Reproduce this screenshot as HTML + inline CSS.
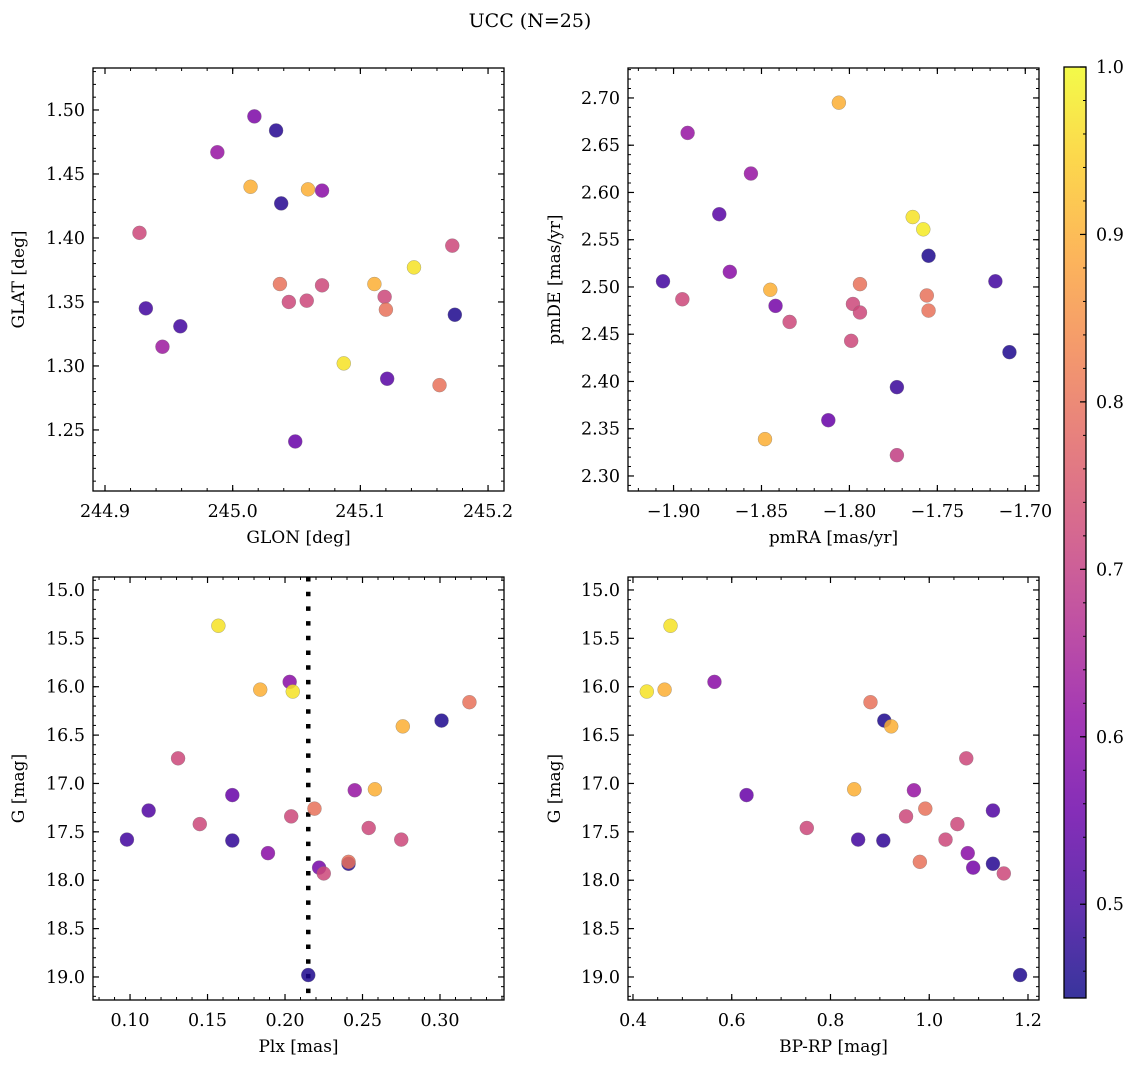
<!DOCTYPE html>
<html><head><meta charset="utf-8"><style>
html,body{margin:0;padding:0;background:#fff;}
svg{display:block;font-family:"DejaVu Serif","Liberation Serif",serif;}
</style></head><body>
<svg id="fig" width="1136" height="1067" viewBox="0 0 1136 1067" xmlns="http://www.w3.org/2000/svg">
<defs>
<linearGradient id="plasmaGrad" x1="0" y1="1" x2="0" y2="0"></linearGradient>
</defs>
<text x="530" y="27" font-size="19" text-anchor="middle">UCC (N=25)</text>
</svg>
<script>
// ---- data ----
const tlGlon = [245.017,245.034,244.988,245.014,245.059,245.070,245.038,244.927,245.172,245.142,245.037,245.070,245.111,245.119,245.044,245.058,245.120,244.932,245.174,244.959,244.945,245.087,245.121,245.162,245.049];
const tlGlat = [1.495,1.484,1.467,1.440,1.438,1.437,1.427,1.404,1.394,1.377,1.364,1.363,1.364,1.354,1.350,1.351,1.344,1.345,1.340,1.331,1.315,1.302,1.290,1.285,1.241];
const tlProb = [0.58,0.47,0.62,0.90,0.90,0.60,0.47,0.72,0.72,0.97,0.80,0.72,0.90,0.72,0.72,0.72,0.80,0.50,0.46,0.50,0.63,0.97,0.53,0.80,0.55];
const trPmra = [-1.806,-1.892,-1.856,-1.874,-1.764,-1.758,-1.755,-1.868,-1.906,-1.717,-1.794,-1.845,-1.756,-1.895,-1.798,-1.842,-1.794,-1.755,-1.834,-1.799,-1.709,-1.773,-1.812,-1.848,-1.773];
const trPmde = [2.695,2.663,2.620,2.577,2.574,2.561,2.533,2.516,2.506,2.506,2.503,2.497,2.491,2.487,2.482,2.480,2.473,2.475,2.463,2.443,2.431,2.394,2.359,2.339,2.322];
const trProb = [0.90,0.62,0.62,0.53,0.97,0.98,0.46,0.60,0.50,0.50,0.80,0.90,0.80,0.72,0.72,0.57,0.72,0.80,0.72,0.72,0.46,0.49,0.55,0.90,0.70];
const plx  = [0.157,0.203,0.184,0.205,0.319,0.301,0.276,0.131,0.245,0.258,0.166,0.219,0.112,0.204,0.145,0.254,0.098,0.166,0.275,0.189,0.241,0.241,0.222,0.225,0.215];
const bprp = [0.476,0.565,0.464,0.428,0.881,0.909,0.923,1.075,0.969,0.848,0.630,0.992,1.129,0.953,1.057,0.752,0.856,0.907,1.033,1.078,1.129,0.981,1.089,1.151,1.184];
const gmag = [15.37,15.95,16.03,16.05,16.16,16.35,16.41,16.74,17.07,17.06,17.12,17.26,17.28,17.34,17.42,17.46,17.58,17.59,17.58,17.72,17.83,17.81,17.87,17.93,18.98];
const gProb= [0.97,0.60,0.90,0.97,0.80,0.46,0.90,0.72,0.62,0.90,0.55,0.80,0.52,0.72,0.72,0.72,0.50,0.48,0.72,0.60,0.47,0.80,0.57,0.72,0.46];
const plxLine = [0.2150];
const tlXTicks = [244.9,245.0,245.1,245.2];
const tlYTicks = [1.25,1.30,1.35,1.40,1.45,1.50];
const trXTicks = [-1.90,-1.85,-1.80,-1.75,-1.70];
const trYTicks = [2.30,2.35,2.40,2.45,2.50,2.55,2.60,2.65,2.70];
const blXTicks = [0.10,0.15,0.20,0.25,0.30];
const gTicks   = [15.0,15.5,16.0,16.5,17.0,17.5,18.0,18.5,19.0];
const brXTicks = [0.4,0.6,0.8,1.0,1.2];
const cbTicks  = [0.5,0.6,0.7,0.8,0.9,1.0];

const NS="http://www.w3.org/2000/svg";
const svg=document.getElementById('fig');
const TF=17.5, LF=17;
function mk(tag,attrs,parent){const e=document.createElementNS(NS,tag);for(const k in attrs)e.setAttribute(k,attrs[k]);(parent||svg).appendChild(e);return e;}
const stops=[[0,'#0d0887'],[0.1,'#41049d'],[0.2,'#6a00a8'],[0.3,'#8f0da4'],[0.4,'#b12a90'],[0.5,'#cc4778'],[0.6,'#e16462'],[0.7,'#f2844b'],[0.8,'#fca636'],[0.9,'#fcce25'],[1,'#f0f921']];
function hex(h){return [parseInt(h.slice(1,3),16),parseInt(h.slice(3,5),16),parseInt(h.slice(5,7),16)];}
const VMIN=0.444,VMAX=1.0;
function plasma(v){let t=(v-VMIN)/(VMAX-VMIN);t=Math.max(0,Math.min(1,t));
 for(let i=0;i<stops.length-1;i++){if(t<=stops[i+1][0]){const a=hex(stops[i][1]),b=hex(stops[i+1][1]);const f=(t-stops[i][0])/(stops[i+1][0]-stops[i][0]);
 return 'rgb('+a.map((c,j)=>Math.round(c+(b[j]-c)*f)).join(',')+')';}}return stops[10][1];}
const fmt=(v,d)=>v<0?'\u2212'+Math.abs(v).toFixed(d):v.toFixed(d);

function panel(name,box,xd,yd,xt,yt,xminor,yminor,xdec,ydec,xlabel,ylabel,ylabX){
 const [L,T,W,H]=box;
 const g=mk('g',{});
 
 
 const sx=v=>L+(v-xd[0])/(xd[1]-xd[0])*W;
 const sy=v=>T+(v-yd[0])/(yd[1]-yd[0])*H;
 const mt=(lo,hi,step)=>{const a=[];for(let v=Math.ceil(lo/step-1e-9)*step;v<=hi+1e-9;v+=step)a.push(v);return a;};
 mt(Math.min(...xd),Math.max(...xd),xminor).forEach(v=>{const x=sx(v);mk('line',{x1:x,x2:x,y1:T+H,y2:T+H-3,stroke:'#000','stroke-width':1},g);mk('line',{x1:x,x2:x,y1:T,y2:T+3,stroke:'#000','stroke-width':1},g);});
 mt(Math.min(...yd),Math.max(...yd),yminor).forEach(v=>{const y=sy(v);mk('line',{x1:L,x2:L+3,y1:y,y2:y,stroke:'#000','stroke-width':1},g);mk('line',{x1:L+W,x2:L+W-3,y1:y,y2:y,stroke:'#000','stroke-width':1},g);});
 xt.forEach(v=>{const x=sx(v);mk('line',{x1:x,x2:x,y1:T+H,y2:T+H-6,stroke:'#000','stroke-width':1.2},g);mk('line',{x1:x,x2:x,y1:T,y2:T+6,stroke:'#000','stroke-width':1.2},g);
  const t=mk('text',{x:x,y:T+H+26,'font-size':TF,'text-anchor':'middle'},g);t.textContent=fmt(v,xdec);
  
  });
 yt.forEach(v=>{const y=sy(v);mk('line',{x1:L,x2:L+6,y1:y,y2:y,stroke:'#000','stroke-width':1.2},g);mk('line',{x1:L+W,x2:L+W-6,y1:y,y2:y,stroke:'#000','stroke-width':1.2},g);
  const t=mk('text',{x:L-8,y:y+6,'font-size':TF,'text-anchor':'end'},g);t.textContent=fmt(v,ydec);
  
  });
 mk('rect',{x:L,y:T,width:W,height:H,fill:'none',stroke:'#000','stroke-width':1.3},g);
 const xl=mk('text',{x:L+W/2,y:T+H+52,'font-size':LF,'text-anchor':'middle'},g);xl.textContent=xlabel;
 
 
 const cy=T+H/2;
 const yl=mk('text',{x:ylabX,y:cy,'font-size':LF,'text-anchor':'middle',transform:'rotate(-90 '+ylabX+' '+cy+')'},g);yl.textContent=ylabel;
 
 
 return {g,sx,sy};
}
function scatter(p,xs,ys,ps){
 for(let i=0;i<xs.length;i++){
  const c=mk('circle',{cx:p.sx(xs[i]),cy:p.sy(ys[i]),r:7,fill:plasma(ps[i]),'fill-opacity':0.85,stroke:'#777','stroke-opacity':0.6,'stroke-width':0.5},p.g);
  
  
 }
}
const p1=panel('glon-glat-panel',[93,68,411,423],[244.8906,245.2125],[1.5328,1.2023],tlXTicks,tlYTicks,0.02,0.01,1,2,'GLON [deg]','GLAT [deg]',24);
scatter(p1,tlGlon,tlGlat,tlProb);
const p2=panel('pm-panel',[628,68,411,423],[-1.9259,-1.6922],[2.7317,2.2841],trXTicks,trYTicks,0.01,0.01,2,2,'pmRA [mas/yr]','pmDE [mas/yr]',560);
scatter(p2,trPmra,trPmde,trProb);
const p3=panel('plx-g-panel',[93,577,411,423],[0.0761,0.3413],[14.866,19.238],blXTicks,gTicks,0.01,0.1,2,1,'Plx [mas]','G [mag]',24);
plxLine.forEach(v=>{const l=mk('line',{x1:p3.sx(v),x2:p3.sx(v),y1:577,y2:1000,stroke:'#000','stroke-width':4.5,'stroke-dasharray':'4.5 10.2'},p3.g);
 
 });
scatter(p3,plx,gmag,gProb);
const p4=panel('color-g-panel',[628,577,411,423],[0.3899,1.2223],[14.866,19.238],brXTicks,gTicks,0.05,0.1,1,1,'BP-RP [mag]','G [mag]',560);
scatter(p4,bprp,gmag,gProb);
const grad=document.getElementById('plasmaGrad');
stops.forEach(s=>mk('stop',{offset:s[0],'stop-color':s[1]},grad));
const cb=mk('g',{});


const CT=67,CB=998,CL=1064,CW=22;
const cy=v=>CB-(v-VMIN)/(VMAX-VMIN)*(CB-CT);
mk('rect',{x:CL,y:CT,width:CW,height:CB-CT,fill:'url(#plasmaGrad)','fill-opacity':0.82},cb);
for(let v=0.46;v<=1.0001;v+=0.02){mk('line',{x1:CL+CW,x2:CL+CW-3,y1:cy(v),y2:cy(v),stroke:'#000','stroke-width':1},cb);}
cbTicks.forEach(v=>{mk('line',{x1:CL+CW,x2:CL+CW-6,y1:cy(v),y2:cy(v),stroke:'#000','stroke-width':1.2},cb);
 const t=mk('text',{x:CL+CW+10,y:cy(v)+6,'font-size':TF},cb);t.textContent=v.toFixed(1);
 
 });
mk('rect',{x:CL,y:CT,width:CW,height:CB-CT,fill:'none',stroke:'#000','stroke-width':1.3},cb);
</script>
</body></html>
